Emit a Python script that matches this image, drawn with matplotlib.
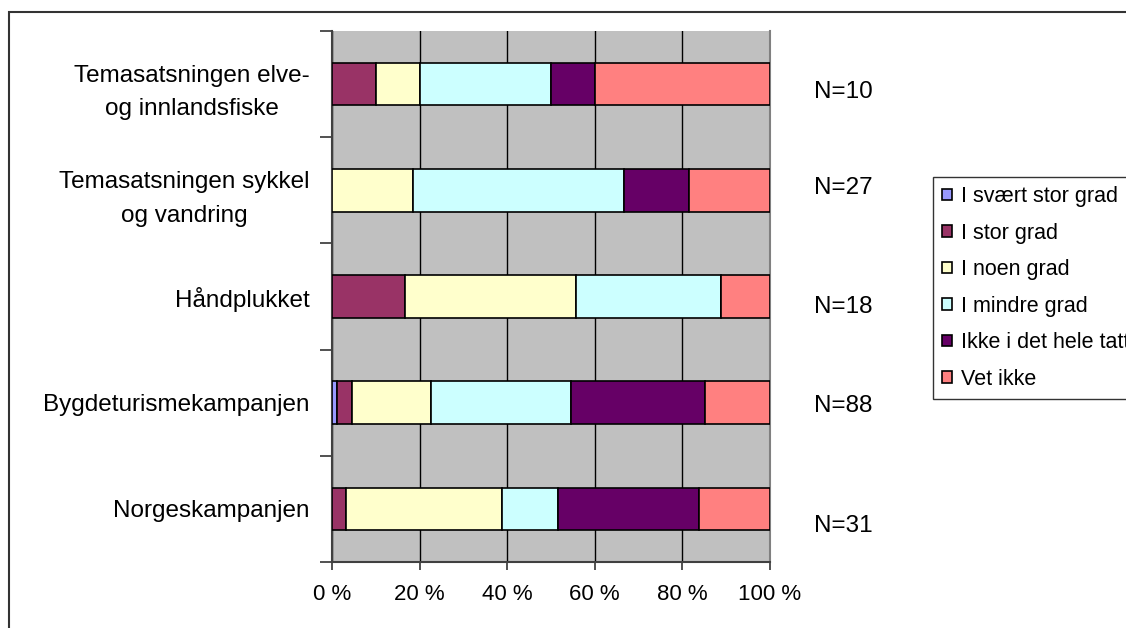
import matplotlib.pyplot as plt
from matplotlib.patches import Rectangle

plt.rcParams['font.family'] = ['Liberation Sans', 'DejaVu Sans']

# data (percent of respondents per campaign)
campaigns = ["Temasatsningen elve-\nog innlandsfiske",
             "Temasatsningen sykkel\nog vandring",
             "Håndplukket",
             "Bygdeturismekampanjen",
             "Norgeskampanjen"]
n_labels = ["N=10", "N=27", "N=18", "N=88", "N=31"]
answers = ["I svært stor grad", "I stor grad", "I noen grad",
           "I mindre grad", "Ikke i det hele tatt", "Vet ikke"]

svaert_stor = [0.0, 0.0, 0.0, 1.1, 0.0]
stor = [10.0, 0.0, 16.7, 3.4, 3.2]
noen = [10.0, 18.5, 38.9, 18.2, 35.5]
mindre = [30.0, 48.1, 33.3, 31.8, 12.9]
ikke = [10.0, 14.8, 0.0, 30.7, 32.3]
vet_ikke = [40.0, 18.5, 11.1, 14.8, 16.1]

series = [svaert_stor, stor, noen, mindre, ikke, vet_ikke]
colors = ["#9999FF", "#993366", "#FFFFCC", "#CCFFFF", "#660066", "#FF8080"]

W, H = 1126, 628
fig = plt.figure(figsize=(W / 100, H / 100), dpi=100)
ax = fig.add_axes([332 / W, 1 - 562 / H, 438 / W, 531 / H])
ax.set_facecolor("#C0C0C0")

ypos = list(range(len(campaigns)))
left = [0.0] * len(campaigns)
for vals, col, name in zip(series, colors, answers):
    ax.barh(ypos, vals, left=left, height=0.4, color=col,
            edgecolor="black", linewidth=1.2, label=name, zorder=3)
    left = [a + b for a, b in zip(left, vals)]

ax.set_xlim(0, 100)
ax.set_ylim(len(campaigns) - 0.5, -0.5)
ax.set_xticks([0, 20, 40, 60, 80, 100])
ax.set_xticklabels(["0 %", "20 %", "40 %", "60 %", "80 %", "100 %"], fontsize=16)
ax.xaxis.grid(True, color="black", linewidth=1.0, zorder=0)
ax.set_axisbelow(True)

ax.set_yticks(ypos)
ax.set_yticklabels(campaigns, fontsize=17.5, multialignment="center", linespacing=1.7)
ax.set_yticks([y - 0.5 for y in ypos] + [len(campaigns) - 0.5], minor=True)
ax.tick_params(axis="y", which="major", length=0, pad=16)
ax.tick_params(axis="y", which="minor", length=9, width=1.2, color="#333333")
ax.tick_params(axis="x", length=6, width=1.2, color="#333333", pad=10)

for s in ["left", "bottom"]:
    ax.spines[s].set_color("#404040")
    ax.spines[s].set_linewidth(1.5)
ax.spines["right"].set_color("#808080")
ax.spines["right"].set_linewidth(1.5)
ax.spines["top"].set_visible(False)

# N labels to the right of the bars
n_offsets = [0.075, -0.02, 0.10, 0.03, 0.16]
for y, lab, off in zip(ypos, n_labels, n_offsets):
    ax.text(116.7, y + off, lab, fontsize=17.5, ha="center", va="center",
            clip_on=False)

leg = fig.legend(loc="upper left", bbox_to_anchor=(933 / W, 1 - 177 / H),
                 fontsize=15.5, frameon=True, fancybox=False, borderaxespad=0,
                 handlelength=0.45, handleheight=0.45, handletextpad=0.45,
                 labelspacing=0.72, borderpad=0.42)
leg.get_frame().set_edgecolor("black")
leg.get_frame().set_linewidth(1.0)

# outer chart border
fig.add_artist(Rectangle((9 / W, -0.1), 1.2, 1 - 12 / H + 0.1,
                         transform=fig.transFigure, fill=False,
                         edgecolor="#333333", linewidth=1.5))

fig.savefig("out.png", dpi=100)
